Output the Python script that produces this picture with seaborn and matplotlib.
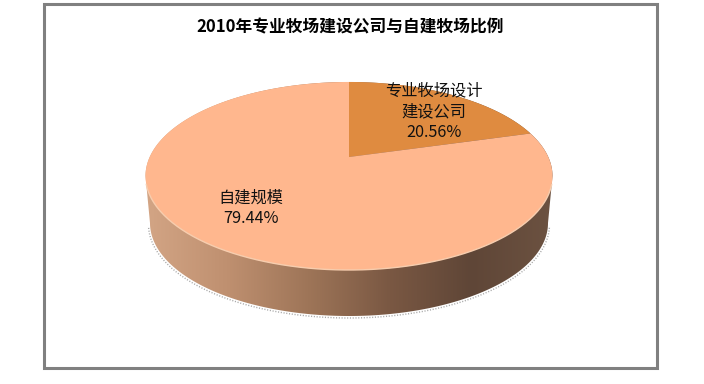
import numpy as np
import matplotlib
matplotlib.use("Agg")
import matplotlib.pyplot as plt
import seaborn as sns
from matplotlib.path import Path
from matplotlib.patches import PathPatch, Rectangle
from matplotlib.transforms import Transform

title = "2010年专业牧场建设公司与自建牧场比例"
categories = ["专业牧场设计\n建设公司", "自建规模"]
shares = [20.56, 79.44]
top_colors = ["#DF8B40", "#FFB78E"]
side_colors = ["#D3A585", "#BF9070", "#9E7558", "#7A5843", "#5F4637", "#6C5241"]

sns.set_theme(style="white")
plt.rcParams["font.family"] = ["Noto Sans CJK SC", "DejaVu Sans"]


class Perspective(Transform):
    """Tilted-disc projection of the unit pie into pixel coordinates."""
    input_dims = output_dims = 2
    is_separable = False
    has_inverse = False
    cx, cy, a, b, k = 349.0, 157.0, 199.3, 90.2, 0.202

    def transform_non_affine(self, values):
        values = np.asarray(values, float)
        d = 1 + self.k * values[:, 1]
        return np.column_stack([self.cx + self.a * values[:, 0] / d,
                                self.cy - self.b * values[:, 1] / d])

    def transform_path_non_affine(self, path):
        scaled = Path(path.vertices * 2000.0, path.codes)
        polys = scaled.to_polygons(closed_only=False)
        return Path(self.transform_non_affine(np.concatenate(polys) / 2000.0))


fig = plt.figure(figsize=(7.04, 3.84), dpi=100, facecolor="white")
ax = fig.add_axes([0, 0, 1, 1])

wedges, _ = ax.pie(shares, colors=top_colors, startangle=90, counterclock=False,
                   wedgeprops={"linewidth": 0})
ax.set_aspect("auto")
persp = Perspective()
for w in wedges:
    w.set_transform(persp + ax.transData)
    w.set_zorder(3)


def arc(cx, cy, rx, ry, t0, t1, n=200):
    t = np.radians(np.linspace(t0, t1, n))
    return np.column_stack([cx + rx * np.cos(t), cy - ry * np.sin(t)])


# side wall with a horizontal shading gradient
outline = np.vstack([arc(349, 176, 203.5, 94, 180, 0), arc(349, 223, 199, 93, 0, -180)])
clip = PathPatch(Path(np.vstack([outline, outline[:1]]), closed=True),
                 facecolor="none", edgecolor="none", transform=ax.transData)
ax.add_patch(clip)
cmap = sns.blend_palette(side_colors, n_colors=256, as_cmap=True)
im = ax.imshow(np.linspace(0, 1, 256)[None, :], cmap=cmap, extent=(145, 553, 320, 78),
               aspect="auto", zorder=1, interpolation="bilinear")
im.set_clip_path(clip)

# soft rim along the front of the top face and stippled shadow under the wall
rim = arc(349, 176, 203.5, 94, 185, 355)
ax.plot(rim[:, 0], rim[:, 1], color="#F7CDAE", lw=1.0, zorder=4)
shadow = arc(349, 224.5, 200.5, 93.5, 358, 182)
ax.plot(shadow[:, 0], shadow[:, 1], color="#A8A8A8", lw=1.0, ls=(0, (0.8, 1.2)), zorder=0)

# outer frame
ax.add_patch(Rectangle((44, 3.5), 613, 364.5, facecolor="none", edgecolor="#808080",
                       lw=2.2, zorder=5))

ax.text(350, 27, title, ha="center", va="center", fontsize=12.05, fontweight="bold", color="black", zorder=6)
ax.text(434, 112, f"{categories[0]}\n{shares[0]:.2f}%", ha="center", va="center",
        fontsize=11.7, linespacing=1.29, color="#111111", zorder=6)
ax.text(251, 208.5, f"{categories[1]}\n{shares[1]:.2f}%", ha="center", va="center",
        fontsize=11.7, linespacing=1.29, color="#111111", zorder=6)

ax.set_xlim(0, 704)
ax.set_ylim(384, 0)
ax.set_position([0, 0, 1, 1])
ax.set_axis_off()
fig.savefig("out.png", dpi=100, facecolor="white")
